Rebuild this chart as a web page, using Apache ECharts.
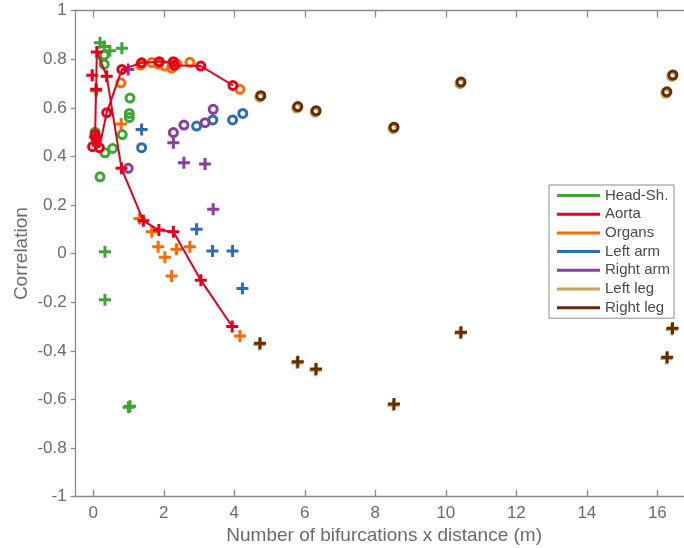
<!DOCTYPE html>
<html>
<head>
<meta charset="utf-8">
<script src="https://cdn.jsdelivr.net/npm/echarts@6/dist/echarts.min.js"></script>
<style>html,body{margin:0;padding:0;background:#fff}#c{width:684px;height:548px}</style>
</head>
<body>
<div id="c"></div>
<script>
// ---- data ([x, correlation]) ----
const xTicks = [0, 2, 4, 6, 8, 10, 12, 14, 16];
const groupNames = ['Head-Sh.', 'Aorta', 'Organs', 'Left arm', 'Right arm', 'Left leg', 'Right leg'];

const headShCirc = [[0.05,0.50],[0.19,0.316],[0.31,0.817],[0.31,0.779],[0.33,0.415],[0.55,0.433],[0.82,0.49],[1.04,0.64],[1.02,0.577],[1.02,0.56]];
const headShPlus = [[0.19,0.868],[0.31,0.852],[0.47,0.835],[0.81,0.845],[0.08,0.67],[0.33,0.008],[0.33,-0.19],[1.0,-0.632],[1.04,-0.628]];

const aortaCirc = [[-0.02,0.44],[0.05,0.49],[0.07,0.475],[0.17,0.436],[0.38,0.58],[0.81,0.758],[1.37,0.785],[1.87,0.79],[2.27,0.79],[2.30,0.775],[3.05,0.772],[3.96,0.692]];
const aortaPlus = [[0.05,0.48],[0.10,0.83],[0.38,0.73],[0.80,0.351],[1.42,0.135],[1.86,0.097],[2.27,0.09],[3.05,-0.109],[3.94,-0.30]];
const aortaPlusExtra = [[-0.03,0.734],[0.08,0.676]];

const organsCirc = [[0.78,0.703],[1.34,0.776],[1.66,0.786],[1.85,0.78],[2.03,0.772],[2.22,0.763],[2.37,0.78],[2.74,0.787],[4.16,0.676]];
const organsPlus = [[0.79,0.533],[1.31,0.145],[1.66,0.09],[1.84,0.028],[2.03,-0.015],[2.36,0.018],[2.74,0.028],[2.22,-0.092],[4.16,-0.339]];

const leftArmCirc = [[1.37,0.436],[2.93,0.525],[3.39,0.55],[3.95,0.55],[4.24,0.577]];
const leftArmPlus = [[1.37,0.511],[2.93,0.10],[3.38,0.011],[3.95,0.011],[4.23,-0.143]];

const rightArmCirc = [[0.99,0.351],[2.27,0.498],[2.57,0.529],[3.17,0.539],[3.40,0.594]];
const rightArmPlus = [[0.99,0.758],[2.27,0.456],[2.57,0.374],[3.17,0.369],[3.40,0.183]];

const leftLegCirc = [[4.72,0.644],[5.77,0.599],[6.29,0.582],[8.50,0.514],[10.40,0.700],[16.24,0.660],[16.41,0.729]];
const leftLegPlus = [[4.71,-0.374],[5.78,-0.450],[6.30,-0.480],[8.51,-0.624],[10.41,-0.328],[16.26,-0.431],[16.41,-0.312]];

const rightLegCirc = [[4.75,0.65],[5.80,0.605],[6.32,0.588],[8.53,0.52],[10.43,0.706],[16.27,0.666],[16.44,0.735]];
const rightLegPlus = [[4.73,-0.369],[5.80,-0.445],[6.32,-0.475],[8.53,-0.619],[10.43,-0.323],[16.28,-0.426],[16.43,-0.307]];

const colors = {
  'Head-Sh.': '#3ca535', 'Aorta': '#e2001a', 'Organs': '#ff6a00', 'Left arm': '#2e6db4',
  'Right arm': '#8b3d9e', 'Left leg': '#c6a05c', 'Right leg': '#682a00'
};

// ---- chart ----
const PLUS = 'path://M3,0H5V3H8V5H5V8H3V5H0V3H3Z';
const FONT = 'Liberation Sans, Arial, Helvetica, sans-serif';

function circ(id, data, c, line) {
  return {
    id, type: line ? 'line' : 'scatter', data, symbol: 'circle', symbolSize: 8,
    showSymbol: true, silent: true,
    itemStyle: { color: 'rgba(255,255,255,0)', borderColor: c, borderWidth: 3, opacity: 1 },
    lineStyle: { color: c, width: 2 }, emphasis: { disabled: true }
  };
}
function plus(id, data, c, line) {
  return {
    id, type: line ? 'line' : 'scatter', data, symbol: PLUS, symbolSize: 12,
    showSymbol: true, silent: true,
    itemStyle: { color: c, borderWidth: 0, opacity: 1 },
    lineStyle: { color: c, width: 2 }, emphasis: { disabled: true }
  };
}

const series = [
  circ('hs-o', headShCirc, colors['Head-Sh.']),
  plus('hs-p', headShPlus, colors['Head-Sh.']),
  circ('ao-o', aortaCirc, colors['Aorta'], true),
  plus('ao-p', aortaPlus, colors['Aorta'], true),
  plus('ao-p2', aortaPlusExtra, colors['Aorta']),
  circ('or-o', organsCirc, colors['Organs']),
  plus('or-p', organsPlus, colors['Organs']),
  circ('la-o', leftArmCirc, colors['Left arm']),
  plus('la-p', leftArmPlus, colors['Left arm']),
  circ('ra-o', rightArmCirc, colors['Right arm']),
  plus('ra-p', rightArmPlus, colors['Right arm']),
  circ('ll-o', leftLegCirc, colors['Left leg']),
  plus('ll-p', leftLegPlus, colors['Left leg']),
  circ('rl-o', rightLegCirc, colors['Right leg']),
  plus('rl-p', rightLegPlus, colors['Right leg'])
];
groupNames.forEach(n => series.push({
  name: n, type: 'line', data: [], showSymbol: false,
  itemStyle: { color: colors[n] }, lineStyle: { color: colors[n], width: 2 }
}));

const axisGray = '#8a8a8a', labelGray = '#6b6b6b';
const chart = echarts.init(document.getElementById('c'), null, { renderer: 'canvas' });
chart.setOption({
  animation: false,
  backgroundColor: '#fff',
  grid: { left: 75.7, top: 10.6, bottom: 51.3, right: -8.6, containLabel: false, outerBoundsMode: 'none' },
  legend: {
    data: groupNames, orient: 'vertical', left: 549, top: 185,
    icon: 'rect', itemWidth: 43, itemHeight: 3, itemGap: 1.7,
    padding: [2, 4, 2, 8], borderColor: '#8c8c8c', borderWidth: 1, backgroundColor: '#fff',
    textStyle: { fontFamily: FONT, fontSize: 15, lineHeight: 17, color: '#4a4a4a' },
    selectedMode: false
  },
  xAxis: [{
    type: 'value', min: -0.5, max: 17, position: 'bottom',
    name: 'Number of bifurcations x distance (m)', nameLocation: 'middle', nameGap: 26,
    nameTextStyle: { fontFamily: FONT, fontSize: 19, color: labelGray, padding: [0, 0, 0, 0] },
    axisLine: { show: true, onZero: false, lineStyle: { color: axisGray, width: 1.3 } },
    axisTick: { show: true, inside: true, length: 7, customValues: xTicks, lineStyle: { color: axisGray, width: 1.3 } },
    axisLabel: { show: true, customValues: xTicks, margin: 8, fontFamily: FONT, fontSize: 17, color: labelGray },
    splitLine: { show: false }
  }, {
    type: 'value', min: -0.5, max: 17, position: 'top',
    axisLine: { show: true, onZero: false, lineStyle: { color: axisGray, width: 1.3 } },
    axisTick: { show: true, inside: true, length: 7, customValues: xTicks, lineStyle: { color: axisGray, width: 1.3 } },
    axisLabel: { show: false }, splitLine: { show: false }
  }],
  yAxis: {
    type: 'value', min: -1, max: 1, interval: 0.2,
    name: 'Correlation', nameLocation: 'middle', nameGap: 44, nameMoveOverlap: false,
    nameTextStyle: { fontFamily: FONT, fontSize: 19, color: labelGray },
    axisLine: { show: true, onZero: false, lineStyle: { color: axisGray, width: 1.3 } },
    axisTick: { show: true, inside: false, length: 5, lineStyle: { color: axisGray, width: 1.3 } },
    axisLabel: { margin: 9, fontFamily: FONT, fontSize: 17, color: labelGray },
    splitLine: { show: false }
  },
  series
});
</script>
</body>
</html>
